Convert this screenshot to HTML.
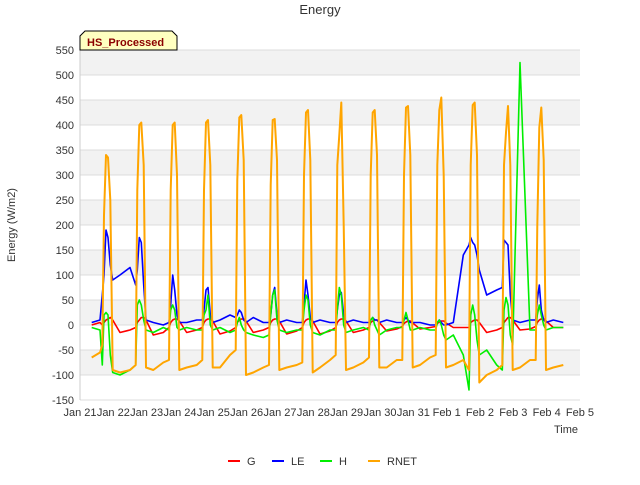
<!DOCTYPE html>
<html><head><meta charset="utf-8"><style>
body{margin:0;background:#fff;font-family:"Liberation Sans",sans-serif}
svg text{font-family:"Liberation Sans",sans-serif}
</style></head><body>
<svg id="chart" width="640" height="480" xmlns="http://www.w3.org/2000/svg">
<text x="320" y="14" text-anchor="middle" font-size="13" fill="#333">Energy</text>
<g id="bands"></g>
<g id="grid"></g>
<g id="yaxis"></g>
<g id="xaxis"></g>
<g id="series"></g>
<text x="15" y="225" transform="rotate(-90 15 225)" text-anchor="middle" font-size="11" fill="#333">Energy (W/m2)</text>
<text x="578" y="433" text-anchor="end" font-size="11" fill="#333">Time</text>
<g>
<path d="M80,50 L80,36 L85,31 L172,31 L177,36 L177,50 Z" fill="#ffffc0" stroke="#000" stroke-width="1"/>
<text x="87" y="46" font-size="11" font-weight="bold" fill="#8b0000">HS_Processed</text>
</g>
<g id="legend"></g>
</svg>
<script>
const yTicks=[-150,-100,-50,0,50,100,150,200,250,300,350,400,450,500,550];
const xTickLabels=["Jan 21","Jan 22","Jan 23","Jan 24","Jan 25","Jan 26","Jan 27","Jan 28","Jan 29","Jan 30","Jan 31","Feb 1","Feb 2","Feb 3","Feb 4","Feb 5"];
const seriesNames=["G","LE","H","RNET"];
const dayFractions=[0.67,0.72,0.78,0.84,0.91,0.98,1.2,1.5];
const startTimes=[0.35,0.6];
const rnetValues=[-65,-55,
-40,220,340,335,250,-90,-95,-90,
-80,270,400,405,320,-85,-90,-75,
-70,270,400,405,300,-90,-85,-80,
-70,270,405,410,320,-85,-85,-60,
-50,290,415,420,330,-100,-95,-85,
-80,280,410,412,330,-90,-85,-80,
-75,300,425,430,330,-95,-85,-70,
-60,320,380,445,200,-90,-85,-75,
-65,300,425,430,340,-85,-85,-70,
-70,300,435,438,340,-85,-80,-65,
-60,320,430,455,300,-85,-80,-70,
-90,320,440,445,340,-115,-100,-90,
-80,320,385,438,320,-90,-85,-70,
-70,200,395,435,330,-90,-85,-80];
const leValues=[5,10,
60,100,190,175,120,90,100,115,
80,110,175,165,80,10,5,0,
5,40,100,70,20,5,5,10,
10,30,70,75,20,5,10,20,
15,20,30,25,10,5,15,5,
5,20,60,75,20,5,10,5,
5,40,90,60,15,5,10,5,
5,30,60,65,20,5,10,5,
5,10,15,10,10,5,10,5,
5,10,15,10,5,5,5,0,
0,5,10,5,0,0,5,140,
160,175,165,160,140,110,60,70,
75,170,165,160,60,10,5,10,
10,50,80,30,10,5,10,5];
const hValues=[-5,-10,
-80,20,25,20,-60,-95,-100,-90,
-80,40,50,40,10,-10,-15,-5,
-10,30,40,30,-5,-10,-5,-10,
-10,20,30,60,0,-10,-5,-15,
-10,5,15,0,-10,-15,-20,-25,
-20,20,60,70,10,-10,-15,-10,
-10,30,60,50,0,-15,-20,-10,
-10,30,75,60,0,-15,-10,-5,
-10,10,15,0,-10,-20,-10,-5,
-5,10,25,10,-10,-10,-5,-10,
-10,5,10,0,-20,-30,-20,-60,
-130,20,40,20,-30,-60,-50,-80,
-90,30,55,40,-20,-40,525,-10,
-10,20,40,20,0,-10,-5,-5];
const gValues=[0,5,
0,5,10,12,15,10,-15,-10,
-5,5,10,15,15,10,-20,-15,
-5,5,10,12,12,8,-15,-10,
-5,5,10,12,12,8,-18,-12,
-5,5,10,12,12,8,-15,-10,
-5,5,10,12,12,8,-18,-12,
-5,5,10,12,12,8,-18,-12,
-5,5,10,12,12,8,-15,-10,
-5,5,8,10,10,5,-12,-8,
-3,3,6,8,8,4,-8,-5,
-3,3,6,8,8,4,-5,-5,
-5,5,8,10,10,5,-15,-10,
-5,5,10,15,15,10,-10,-8,
-3,5,10,12,12,8,-5,-5];
const colors=["#ff0000","#0000ff","#00ee00","#ffa500"];
const NS="http://www.w3.org/2000/svg";
const X0=80,X1=580,Y0=50,Y1=400;
const xs=d=>X0+d*(X1-X0)/15;
const ys=v=>Y1-(v+150)*(Y1-Y0)/700;
function mk(tag,attrs,parent){const e=document.createElementNS(NS,tag);for(const k in attrs)e.setAttribute(k,attrs[k]);parent.appendChild(e);return e;}
const times=[...startTimes];
for(let d=0;d<14;d++)for(const f of dayFractions)times.push(d+f);
const bands=document.getElementById('bands');
for(let i=0;i<yTicks.length-1;i++){
  const r=mk('rect',{x:X0,y:ys(yTicks[i+1]),width:X1-X0,height:ys(yTicks[i])-ys(yTicks[i+1]),fill:((yTicks.length-2-i)%2===0)?'#f2f2f2':'#ffffff'},bands);
  
  
}
const grid=document.getElementById('grid'),ya=document.getElementById('yaxis'),xa=document.getElementById('xaxis');
yTicks.forEach(v=>{
  const l=mk('line',{x1:X0,x2:X1,y1:ys(v),y2:ys(v),stroke:'#dcdcdc','stroke-width':1},grid);
  
  
  const t=mk('text',{x:X0-6,y:ys(v)+4,'text-anchor':'end','font-size':11,fill:'#333'},ya);
  t.textContent=v;
  
  
});
mk('line',{x1:X0,x2:X0,y1:Y0,y2:Y1,stroke:'#ccc'},ya);
xTickLabels.forEach((s,i)=>{
  const t=mk('text',{x:xs(i),y:416,'text-anchor':'middle','font-size':11,fill:'#333'},xa);
  t.textContent=s;
  
  
});
const sg=document.getElementById('series');
[gValues,leValues,hValues,rnetValues].forEach((vals,si)=>{
  const pts=vals.map((v,i)=>xs(times[i]).toFixed(1)+','+ys(v).toFixed(1)).join(' ');
  const p=mk('polyline',{points:pts,fill:'none',stroke:colors[si],'stroke-width':si===3?2:1.6,'stroke-linejoin':'round'},sg);
  
  
});
const lg=document.getElementById('legend');
const lx=[228,272,320,368];
seriesNames.forEach((n,i)=>{
  const g=mk('g',{},lg);
  
  
  mk('line',{x1:lx[i],x2:lx[i]+12,y1:461,y2:461,stroke:colors[i],'stroke-width':2},g);
  const t=mk('text',{x:lx[i]+19,y:465,'font-size':11,fill:'#333'},g);
  t.textContent=n;
});
</script>
</body></html>
